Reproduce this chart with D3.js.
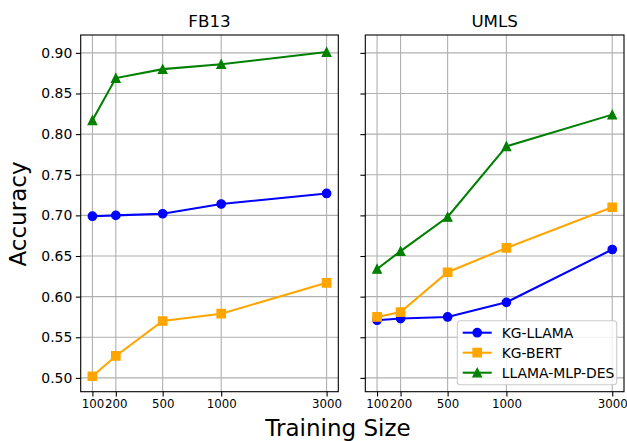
<!DOCTYPE html>
<html><head><meta charset="utf-8">
<script src="https://cdn.jsdelivr.net/npm/d3@7"></script>
<style>body{margin:0;background:#fff}svg{display:block;font-family:"DejaVu Sans",sans-serif}</style>
</head><body><svg id="c" width="627" height="441"></svg>
<script>
const sizes = [100, 200, 500, 1000, 3000];
const xTickLabels = ["100", "200", "500", "1000", "3000"];
const yTicks = [0.50, 0.55, 0.60, 0.65, 0.70, 0.75, 0.80, 0.85, 0.90];
const seriesNames = ["KG-LLAMA", "KG-BERT", "LLAMA-MLP-DES"];
const fb13_llama = [0.699, 0.700, 0.702, 0.714, 0.727];
const fb13_bert = [0.502, 0.527, 0.570, 0.579, 0.617];
const fb13_des = [0.817, 0.869, 0.880, 0.886, 0.901];
const umls_llama = [0.571, 0.573, 0.575, 0.593, 0.658];
const umls_bert = [0.575, 0.581, 0.630, 0.660, 0.710];
const umls_des = [0.634, 0.656, 0.698, 0.785, 0.824];

const colors = ["#0000ff", "#ffa500", "#008000"];
const mplTriangle = {
  draw(ctx, size) {
    const r = Math.sqrt(size) / 2;
    ctx.moveTo(0, -r); ctx.lineTo(-r, r); ctx.lineTo(r, r); ctx.closePath();
  }
};
const shapes = [d3.symbolCircle, d3.symbolSquare, mplTriangle];
const ms = 8.33;
const symSizes = [Math.PI * (ms/2) * (ms/2), ms * ms, ms * ms];
const panels = [
  {title: "FB13", left: 80.7, right: 338.3, labels: true, data: [fb13_llama, fb13_bert, fb13_des], legend: false},
  {title: "UMLS", left: 365.3, right: 624, labels: false, data: [umls_llama, umls_bert, umls_des], legend: true}
];
const plotTop = 35, plotBottom = 391.7;
const svg = d3.select("#c");
const y = d3.scaleLinear().domain([0.483, 0.922]).range([plotBottom, plotTop]);
const fracs = [0, 0.1, 0.3, 0.55, 1];

function sym(i){ return d3.symbol().type(shapes[i]).size(symSizes[i])(); }
function drawMarker(sel, i){
  sel.attr("d", sym(i)).attr("fill", colors[i]).attr("stroke", colors[i])
    .attr("stroke-width", 1.39).attr("stroke-linejoin", "miter");
}

panels.forEach(p => {
  const w = p.right - p.left;
  const m = w * 0.05 / 1.1;
  const inner0 = p.left + m, inner1 = p.right - m;
  const x = d3.scaleLinear().domain(sizes).range(fracs.map(f => inner0 + f*(inner1-inner0)));
  const g = svg.append("g");
  g.selectAll(".gx").data(sizes).join("line")
    .attr("x1", d=>x(d)).attr("x2", d=>x(d)).attr("y1", plotTop).attr("y2", plotBottom)
    .attr("stroke", "#b0b0b0").attr("stroke-width", 1.1);
  g.selectAll(".gy").data(yTicks).join("line")
    .attr("x1", p.left).attr("x2", p.right).attr("y1", d=>y(d)).attr("y2", d=>y(d))
    .attr("stroke", "#b0b0b0").attr("stroke-width", 1.1);
  const xa = d3.axisBottom(x).tickValues(sizes).tickFormat((d,i)=>xTickLabels[i]).tickSize(4.9).tickPadding(3.5);
  const xg = g.append("g").attr("transform", `translate(0,${plotBottom})`).call(xa);
  xg.select(".domain").remove();
  xg.selectAll("text").attr("font-size", 11.8).attr("fill", "#000").attr("font-family", "DejaVu Sans");
  xg.selectAll("line").attr("stroke", "#000").attr("stroke-width", 1.1);
  const ya = d3.axisLeft(y).tickValues(yTicks).tickFormat(p.labels ? d3.format(".2f") : () => "").tickSize(4.9).tickPadding(3.5);
  const yg = g.append("g").attr("transform", `translate(${p.left},0)`).call(ya);
  yg.select(".domain").remove();
  yg.selectAll("text").attr("font-size", 13.9).attr("fill", "#000").attr("font-family", "DejaVu Sans");
  yg.selectAll("line").attr("stroke", "#000").attr("stroke-width", 1.1);
  p.data.forEach((vals, i) => {
    const pts = sizes.map((s, k) => [x(s), y(vals[k])]);
    g.append("path").attr("d", d3.line()(pts)).attr("fill", "none")
      .attr("stroke", colors[i]).attr("stroke-width", 2.08);
    g.selectAll(null).data(pts).join("path")
      .call(drawMarker, i)
      .attr("transform", d => `translate(${d[0]},${d[1]})`);
  });
  g.append("rect").attr("x", p.left).attr("y", plotTop).attr("width", w).attr("height", plotBottom-plotTop)
    .attr("fill", "none").attr("stroke", "#000").attr("stroke-width", 1.1);
  g.append("text").attr("x", (p.left+p.right)/2).attr("y", 26.5).attr("text-anchor", "middle")
    .attr("font-size", 16.7).text(p.title);
  if (p.legend) {
    const lx = 457.3, ly = 320.7, lw = 159.4, lh = 64;
    const lg = g.append("g");
    lg.append("rect").attr("x", lx).attr("y", ly).attr("width", lw).attr("height", lh)
      .attr("rx", 3).attr("fill", "#fff").attr("fill-opacity", 0.8).attr("stroke", "#cccccc").attr("stroke-width", 1.1);
    seriesNames.forEach((n, i) => {
      const yy = 332.7 + i*20;
      lg.append("line").attr("x1", 462.7).attr("x2", 491.7).attr("y1", yy).attr("y2", yy)
        .attr("stroke", colors[i]).attr("stroke-width", 2.08);
      lg.append("path").call(drawMarker, i).attr("transform", `translate(477.2,${yy})`);
      lg.append("text").attr("x", 501.7).attr("y", yy + 5).attr("font-size", 13.9).text(n);
    });
  }
});

svg.append("text").attr("x", 338).attr("y", 436).attr("text-anchor", "middle")
  .attr("font-size", 23).text("Training Size");
svg.append("text").attr("transform", "translate(26,214) rotate(-90)").attr("text-anchor", "middle")
  .attr("font-size", 23).text("Accuracy");
</script></body></html>
